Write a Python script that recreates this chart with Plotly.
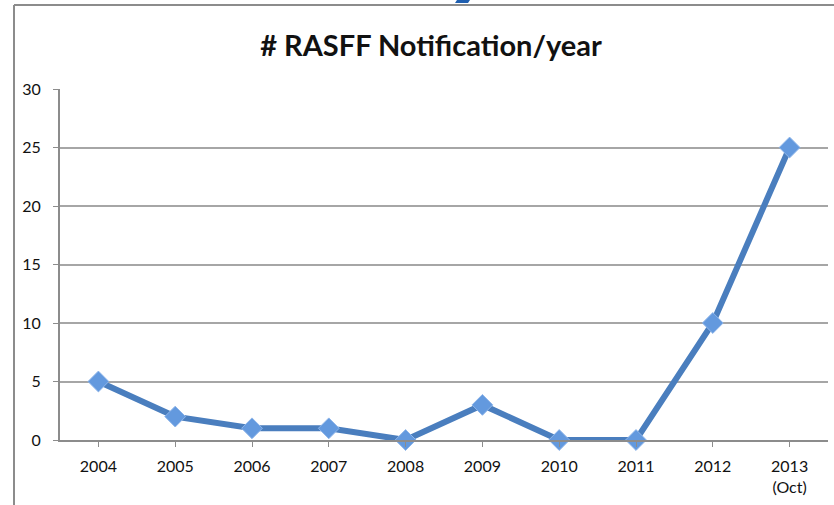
import plotly.graph_objects as go

years = ["2004", "2005", "2006", "2007", "2008", "2009", "2010", "2011", "2012", "2013<br>(Oct)"]
notifications = [5, 2, 1, 1, 0, 3, 0, 0, 10, 25]
y_ticks = [0, 5, 10, 15, 20, 25, 30]
title_text = "# RASFF Notification/year"

L, R, T, B = 60, 6, 89, 65
W, H = 834, 505
pw, ph = W - L - R, H - T - B

def px(x):
    return (x - L) / pw

def py(y):
    return (H - B - y) / ph

fig = go.Figure()
fig.add_trace(go.Scatter(
    x=list(range(len(years))), y=notifications, mode="lines+markers",
    line=dict(color="#4a7ebe", width=6),
    marker=dict(symbol="diamond", size=16, color="#6399de",
                line=dict(color="#8fb6ea", width=1)),
    cliponaxis=False, showlegend=False,
))

shapes = [
    # outer frame lines
    dict(type="line", xref="paper", yref="paper", x0=px(14), x1=px(834), y0=py(5), y1=py(5),
         line=dict(color="#8c8c8c", width=2)),
    dict(type="line", xref="paper", yref="paper", x0=px(14), x1=px(14), y0=py(5), y1=py(505),
         line=dict(color="#8c8c8c", width=2)),
    # small blue fragment at top edge
    dict(type="path", xref="paper", yref="paper",
         path=f"M {px(457)} {py(0)} L {px(470)} {py(0)} L {px(468)} {py(3)} L {px(455)} {py(3)} Z",
         fillcolor="#1f5fb0", line=dict(width=0)),
]

fig.update_layout(
    width=W, height=H,
    margin=dict(l=L, r=R, t=T, b=B),
    paper_bgcolor="white", plot_bgcolor="white",
    title=dict(text=f"<b>{title_text}</b>", x=(431) / W, xanchor="center",
               y=1 - 46 / H, yanchor="middle",
               font=dict(family="Lato", size=29, color="#111111")),
    font=dict(family="Lato", color="#111111"),
    shapes=shapes,
    xaxis=dict(
        tickmode="array", tickvals=list(range(len(years))), ticktext=years,
        range=[-0.5, len(years) - 0.5], showgrid=False, zeroline=False,
        showline=True, linecolor="#8c8c8c", linewidth=2,
        ticks="outside", ticklen=5, tickcolor="#8c8c8c", tickson="boundaries",
        ticklabelstandoff=6,
        tickfont=dict(size=16, color="#111111"),
    ),
    yaxis=dict(
        range=[0, 30], tickvals=y_ticks, showgrid=True, gridcolor="#a6a6a6", gridwidth=1.5,
        zeroline=False, showline=True, linecolor="#8c8c8c", linewidth=2,
        ticks="outside", ticklen=5, tickcolor="#8c8c8c",
        ticklabelstandoff=9,
        tickfont=dict(size=16, color="#111111"),
    ),
)

fig.write_html("out.html")
